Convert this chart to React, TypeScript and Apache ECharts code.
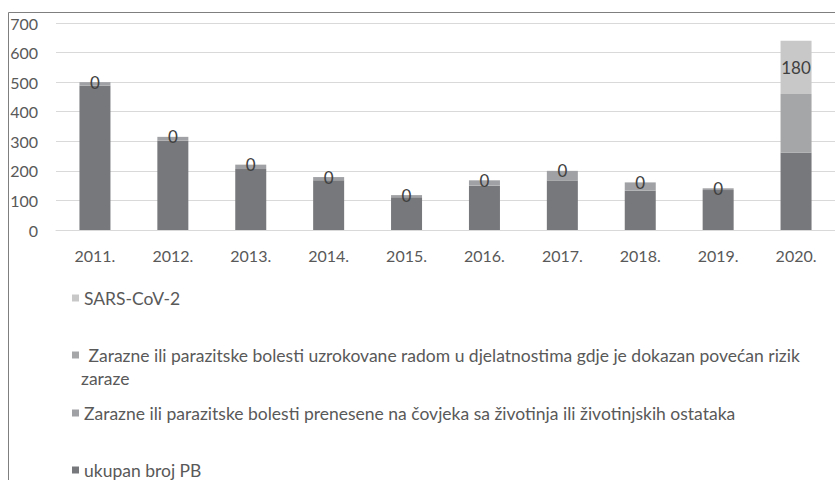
import React, { useEffect, useRef } from "react";
import * as echarts from "echarts";

const categories = ["2011.", "2012.", "2013.", "2014.", "2015.", "2016.", "2017.", "2018.", "2019.", "2020."];
const ukupanBrojPB = [488, 302, 206, 168, 111, 150, 167, 133, 135, 261];
const prenesene = [12, 13, 15, 11, 7, 18, 33, 28, 6, 0];
const uzrokovane = [0, 0, 0, 0, 0, 0, 0, 0, 0, 199];
const sarsCov2 = [0, 0, 0, 0, 0, 0, 0, 0, 0, 180];

const NAME_UKUPAN = "ukupan broj PB";
const NAME_PRENESENE = "Zarazne ili parazitske bolesti prenesene na čovjeka sa životinja ili životinjskih ostataka";
const NAME_UZROKOVANE = " Zarazne ili parazitske bolesti uzrokovane radom u djelatnostima gdje je dokazan povećan rizik zaraze";
const NAME_SARS = "SARS-CoV-2";

const FONT = "Lato";
const TEXT_COLOR = "#595959";

export default function App() {
  const ref = useRef<HTMLDivElement>(null);
  useEffect(() => {
    if (!ref.current) return;
    const chart = echarts.init(ref.current, null, { renderer: "svg" });
    const legendBase = {
      orient: "vertical",
      left: 67,
      itemWidth: 7,
      itemHeight: 7,
      icon: "rect",
      selectedMode: false,
      textStyle: { fontFamily: FONT, fontSize: 17.5, color: TEXT_COLOR, lineHeight: 20 },
    };
    chart.setOption({
      animation: false,
      textStyle: { fontFamily: FONT },
      grid: { left: 56, right: -8, top: 23, bottom: 250, containLabel: false },
      xAxis: {
        type: "category",
        data: categories,
        axisLine: { show: true, lineStyle: { color: "#d9d9d9", width: 1 } },
        axisTick: { show: false },
        axisLabel: { fontFamily: FONT, fontSize: 16, color: TEXT_COLOR, margin: 17 },
      },
      yAxis: {
        type: "value",
        min: 0,
        max: 700,
        interval: 100,
        axisLine: { show: false },
        axisTick: { show: false },
        splitLine: { lineStyle: { color: "#d9d9d9", width: 1 } },
        axisLabel: { fontFamily: FONT, fontSize: 16, color: TEXT_COLOR, margin: 18 },
      },
      legend: [
        { ...legendBase, top: 283, data: [NAME_SARS] },
        {
          ...legendBase,
          top: 340,
          data: [NAME_UZROKOVANE],
          formatter: (n: string) => n.replace(/ zaraze$/, ""),
        },
        { ...legendBase, top: 398, data: [NAME_PRENESENE] },
        { ...legendBase, top: 455, data: [NAME_UKUPAN] },
      ],
      graphic: [
        {
          type: "rect",
          shape: { x: 8.5, y: 12.5, width: 1000, height: 1000 },
          style: { fill: "none", stroke: "#7f7f7f", lineWidth: 1 },
          silent: true,
        },
        {
          type: "text",
          x: 81,
          y: 378,
          style: {
            text: "zaraze",
            fontFamily: FONT,
            fontSize: 17.5,
            fill: TEXT_COLOR,
            textVerticalAlign: "middle",
            verticalAlign: "middle",
          },
          silent: true,
        },
      ],
      series: [
        {
          name: NAME_UKUPAN,
          type: "bar",
          stack: "total",
          barWidth: 31,
          data: ukupanBrojPB,
          itemStyle: { color: "#77787b" },
        },
        {
          name: NAME_PRENESENE,
          type: "bar",
          stack: "total",
          barWidth: 31,
          data: prenesene,
          itemStyle: { color: "#a0a1a4" },
        },
        {
          name: NAME_UZROKOVANE,
          type: "bar",
          stack: "total",
          barWidth: 31,
          data: uzrokovane,
          itemStyle: { color: "#a5a6a8" },
        },
        {
          name: NAME_SARS,
          type: "bar",
          stack: "total",
          barWidth: 31,
          data: sarsCov2,
          itemStyle: { color: "#c8c8c9" },
          label: {
            show: true,
            position: "inside",
            fontFamily: FONT,
            fontSize: 17,
            color: "#404040",
            formatter: "{c}",
          },
        },
      ],
    });
    return () => chart.dispose();
  }, []);
  return (
    <div
      ref={ref}
      style={{ position: "fixed", left: 0, top: 0, width: 835, height: 480, background: "#ffffff", overflow: "hidden" }}
    />
  );
}
